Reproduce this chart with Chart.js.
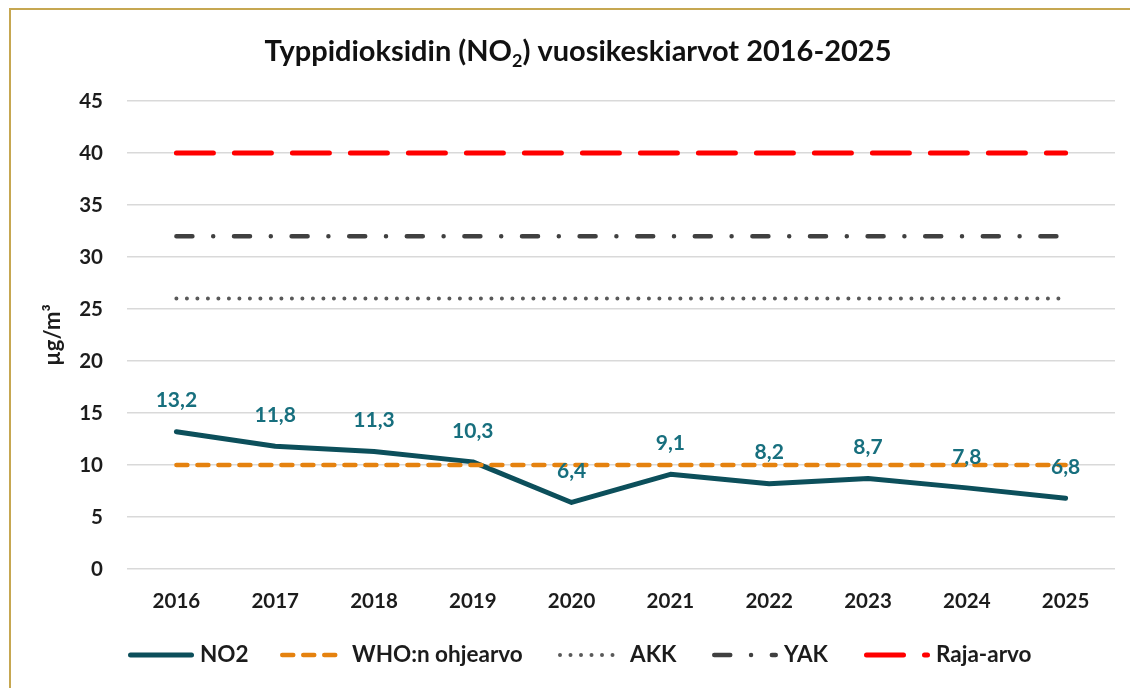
<!DOCTYPE html>
<html>
<head>
<meta charset="utf-8">
<script src="https://cdn.jsdelivr.net/npm/chart.js@4.4.0/dist/chart.umd.min.js"></script>
<style>
html,body{margin:0;padding:0;background:#ffffff;}
#wrap{position:relative;width:1130px;height:688px;overflow:hidden;background:#fff;}
#frame{position:absolute;left:9px;top:8px;width:1300px;height:900px;border-left:2px solid #c6a751;border-top:2px solid #c6a751;box-sizing:border-box;}
#c{position:absolute;left:0;top:0;}
</style>
</head>
<body>
<div id="wrap"><div id="frame"></div><canvas id="c" width="1130" height="688"></canvas></div>
<script>
// ---- data ----
const years = ['2016','2017','2018','2019','2020','2021','2022','2023','2024','2025'];
const no2Values = [13.2, 11.8, 11.3, 10.3, 6.4, 9.1, 8.2, 8.7, 7.8, 6.8];
const whoValues = [10, 10, 10, 10, 10, 10, 10, 10, 10, 10];
const akkValues = [26, 26, 26, 26, 26, 26, 26, 26, 26, 26];
const yakValues = [32, 32, 32, 32, 32, 32, 32, 32, 32, 32];
const rajaValues = [40, 40, 40, 40, 40, 40, 40, 40, 40, 40];
const seriesLabels = ['NO2', 'WHO:n ohjearvo', 'AKK', 'YAK', 'Raja-arvo'];
const titleParts = ['Typpidioksidin (NO', '2', ') vuosikeskiarvot 2016-2025'];
const yAxisTitle = 'µg/m³';
const yMin = 0, yMax = 45, yStep = 5;

const FONT = 'Lato, "Open Sans", sans-serif';
const TEXT = '#1c1c1c';

const titlePlugin = {
  id: 'subTitle',
  afterDraw(chart) {
    const ctx = chart.ctx;
    ctx.save();
    const targetW = 627, cx = 578, base = 61;
    let size = 28;
    const measure = (s) => {
      ctx.font = `bold ${s}px ${FONT}`;
      const a = ctx.measureText(titleParts[0]).width + ctx.measureText(titleParts[2]).width;
      ctx.font = `bold ${Math.round(s*0.62)}px ${FONT}`;
      return a + ctx.measureText(titleParts[1]).width;
    };
    size = size * targetW / measure(size);
    const small = size * 0.62;
    let x = cx - measure(size) / 2;
    ctx.fillStyle = '#111111';
    ctx.textBaseline = 'alphabetic';
    ctx.textAlign = 'left';
    ctx.font = `bold ${size}px ${FONT}`;
    ctx.fillText(titleParts[0], x, base);
    x += ctx.measureText(titleParts[0]).width;
    ctx.font = `bold ${small}px ${FONT}`;
    ctx.fillText(titleParts[1], x, base + 6);
    x += ctx.measureText(titleParts[1]).width;
    ctx.font = `bold ${size}px ${FONT}`;
    ctx.fillText(titleParts[2], x, base);
    ctx.restore();
  }
};

const dataLabelPlugin = {
  id: 'valueLabels',
  afterDatasetsDraw(chart) {
    const ctx = chart.ctx;
    const meta = chart.getDatasetMeta(0);
    ctx.save();
    ctx.font = `bold 21px ${FONT}`;
    ctx.fillStyle = '#176f7e';
    ctx.textAlign = 'center';
    ctx.textBaseline = 'middle';
    meta.data.forEach((pt, i) => {
      const v = chart.data.datasets[0].data[i];
      ctx.fillText(v.toFixed(1).replace('.', ','), pt.x, pt.y - 31);
    });
    ctx.restore();
  }
};

const legendPlugin = {
  id: 'lineLegend',
  afterDraw(chart) {
    const ctx = chart.ctx;
    const starts = [128, 280, 558, 712, 864];
    const len = 66, y = 655;
    ctx.save();
    chart.data.datasets.forEach((ds, i) => {
      const x0 = starts[i];
      ctx.beginPath();
      ctx.strokeStyle = ds.borderColor;
      ctx.lineWidth = ds.borderWidth;
      ctx.lineCap = ds.borderCapStyle || 'butt';
      ctx.setLineDash(ds.borderDash || []);
      ctx.lineDashOffset = 0;
      ctx.moveTo(x0 + (ctx.lineCap === 'round' ? ds.borderWidth/2 : 0), y);
      ctx.lineTo(x0 + len - (ctx.lineCap === 'round' ? ds.borderWidth/2 : 0), y);
      ctx.stroke();
      ctx.setLineDash([]);
      ctx.font = `bold 22.5px ${FONT}`;
      ctx.fillStyle = TEXT;
      ctx.textAlign = 'left';
      ctx.textBaseline = 'middle';
      ctx.fillText(ds.label, x0 + len + 6, y);
    });
    ctx.restore();
  }
};

new Chart(document.getElementById('c'), {
  type: 'line',
  data: {
    labels: years,
    datasets: [
      { label: seriesLabels[0], data: no2Values, borderColor: '#0c4f5b', borderWidth: 5, borderCapStyle: 'round', borderJoinStyle: 'round', pointRadius: 0, tension: 0, order: 2 },
      { label: seriesLabels[1], data: whoValues, borderColor: '#e5820f', borderWidth: 4.5, borderDash: [11, 10], borderCapStyle: 'round', pointRadius: 0, order: 1 },
      { label: seriesLabels[2], data: akkValues, borderColor: '#595959', borderWidth: 4, borderDash: [0, 10.5], borderCapStyle: 'round', pointRadius: 0, order: 3 },
      { label: seriesLabels[3], data: yakValues, borderColor: '#404040', borderWidth: 4.5, borderDash: [16, 20.8, 0, 20.8], borderCapStyle: 'round', pointRadius: 0, order: 4 },
      { label: seriesLabels[4], data: rajaValues, borderColor: '#ff0000', borderWidth: 5, borderDash: [37, 21], borderCapStyle: 'round', pointRadius: 0, order: 5 }
    ]
  },
  options: {
    responsive: false,
    animation: false,
    devicePixelRatio: 1,
    layout: { padding: { top: 101, right: 15, bottom: 69, left: 0 } },
    plugins: { legend: { display: false }, title: { display: false }, tooltip: { enabled: false } },
    scales: {
      x: {
        offset: true,
        grid: { display: false, drawTicks: false },
        border: { display: false },
        ticks: { color: TEXT, font: { family: FONT, size: 20.5, weight: 'bold' }, padding: 20, maxRotation: 0 },
        afterFit(scale) { scale.height = 50; }
      },
      y: {
        min: yMin, max: yMax,
        grid: { color: '#d9d9d9', lineWidth: 1.5, drawTicks: false },
        border: { display: false },
        ticks: { stepSize: yStep, color: TEXT, font: { family: FONT, size: 20.5, weight: 'bold' }, padding: 24 },
        title: { display: true, text: yAxisTitle, color: TEXT, font: { family: FONT, size: 22, weight: 'bold' }, padding: { top: 40, bottom: 0 } },
        afterFit(scale) { scale.width = 127; }
      }
    }
  },
  plugins: [titlePlugin, dataLabelPlugin, legendPlugin]
});
</script>
</body>
</html>
